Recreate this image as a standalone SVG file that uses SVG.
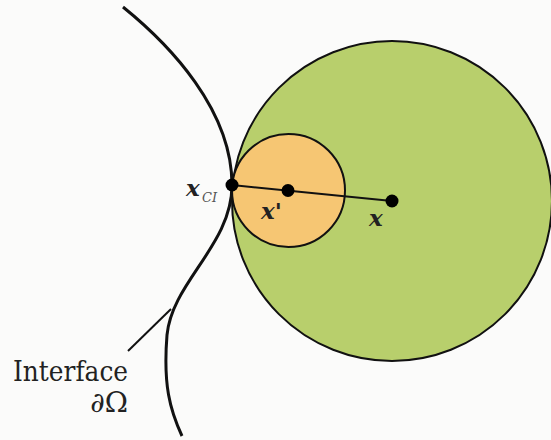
<svg xmlns="http://www.w3.org/2000/svg" width="551" height="440" viewBox="0 0 551 440">
<style>
.outline{stroke:#111;stroke-width:2;}
.curve{fill:none;stroke:#111;stroke-width:3;}
.dot{fill:#000;}
text{fill:#222;}
.var{font-family:'DejaVu Serif',serif;font-weight:bold;font-style:italic;font-size:23px;}
.sub{font-family:'DejaVu Serif',serif;font-style:italic;font-size:13px;fill:#555;}
.big{font-family:'DejaVu Serif',serif;font-size:28px;}
</style>
<rect width="551" height="440" fill="#fbfbfa"/>
<g id="outer-ball">
<circle cx="392" cy="201" r="160" fill="#b8cf6c" class="outline"/>
</g>
<g id="inner-ball">
<circle cx="288.5" cy="190.5" r="56.5" fill="#f6c673" class="outline"/>
</g>
<g id="interface">
<path class="curve" d="M123,7 C170,45 232,110 232,185 C232,245 172,282 167,335 C163,385 170,410 182,436"/>
</g>
<g id="connectors">
<line x1="232" y1="185" x2="392" y2="201" stroke="#111" stroke-width="2"/>
<line x1="128" y1="351" x2="171" y2="309" stroke="#111" stroke-width="2"/>
</g>
<g id="point-xci">
<circle class="dot" cx="232" cy="185" r="6.5"/>
<text class="var" x="186" y="196">x</text>
<text class="sub" x="202" y="202">CI</text>
</g>
<g id="point-xprime">
<circle class="dot" cx="288" cy="190.5" r="6.5"/>
<text class="var" x="261" y="219">x'</text>
</g>
<g id="point-x">
<circle class="dot" cx="392" cy="201" r="6.5"/>
<text class="var" x="369" y="226">x</text>
</g>
<g id="label-interface">
<text class="big" x="13" y="381" textLength="115" lengthAdjust="spacingAndGlyphs">Interface</text>
<text class="big" x="128" y="412" text-anchor="end">∂Ω</text>
</g>
</svg>
